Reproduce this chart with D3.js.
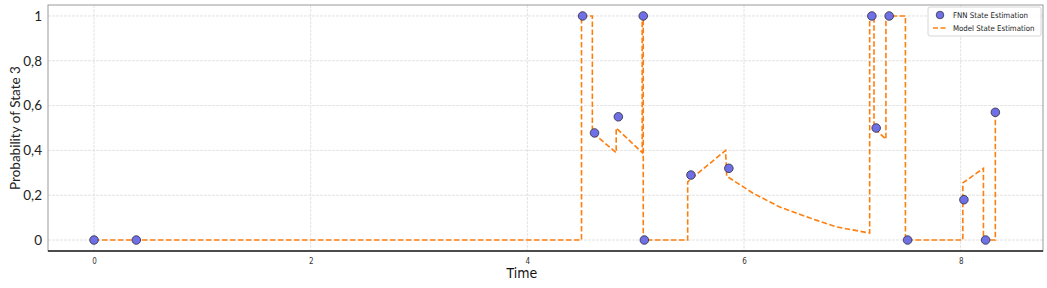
<!DOCTYPE html>
<html>
<head>
<meta charset="utf-8">
<script src="https://cdn.jsdelivr.net/npm/d3@7"></script>
<style>
  html, body { margin: 0; padding: 0; background: #fff; }
  svg { display: block; }
</style>
</head>
<body>
<div class="app"></div>
<script>
// FNN estimates (time, probability)
const fnnTime = [0, 0.39, 4.51, 4.62, 4.84, 5.07, 5.08, 5.51, 5.86, 7.18, 7.22, 7.34, 7.51, 8.03, 8.23, 8.32]
const fnnProb = [0, 0, 1, 0.478, 0.55, 1, 0, 0.29, 0.32, 1, 0.5, 1, 0, 0.18, 0, 0.57]

// model estimate polyline vertices
const modelTime = [0, 4.50, 4.50, 4.60, 4.60, 4.82, 4.82, 5.06, 5.06, 5.07, 5.07, 5.48, 5.48, 5.83, 5.84,
  6.08, 6.33, 6.61, 6.86, 7.16, 7.16, 7.20, 7.20, 7.31, 7.31, 7.49, 7.49, 8.02, 8.02, 8.21, 8.21, 8.32, 8.32]
const modelProb = [0, 0, 1, 1, 0.48, 0.39, 0.50, 0.39, 1, 1, 0, 0, 0.26, 0.40, 0.285,
  0.21, 0.147, 0.098, 0.058, 0.031, 1, 1, 0.50, 0.45, 1, 1, 0, 0, 0.255, 0.32, 0, 0, 0.57]

const xTicks = [0, 2, 4, 6, 8]
const yTicks = [0, 0.2, 0.4, 0.6, 0.8, 1]
const yTickLabels = ['0', '0,2', '0,4', '0,6', '0,8', '1']

const W = 1047, H = 288
const m = { left: 48, right: 4, top: 5, bottom: 37 }

const svg = d3.select('.app').append('svg').attr('width', W).attr('height', H)

const x = d3.scaleLinear().domain([-0.425, 8.76]).range([m.left, W - m.right])
const y = d3.scaleLinear().domain([-0.049, 1.049]).range([H - m.bottom, m.top])

// grid
svg.append('g')
  .selectAll('line.gy')
  .data(yTicks)
  .join('line')
  .attr('x1', m.left).attr('x2', W - m.right)
  .attr('y1', d => y(d)).attr('y2', d => y(d))
  .attr('stroke', '#dcdcdc').attr('stroke-width', 0.8).attr('stroke-dasharray', '3,1')

svg.append('g')
  .selectAll('line.gx')
  .data(xTicks)
  .join('line')
  .attr('x1', d => x(d)).attr('x2', d => x(d))
  .attr('y1', m.top).attr('y2', H - m.bottom)
  .attr('stroke', '#dcdcdc').attr('stroke-width', 0.8).attr('stroke-dasharray', '3,1')

// frame
svg.append('rect')
  .attr('x', m.left).attr('y', m.top)
  .attr('width', W - m.left - m.right).attr('height', H - m.top - m.bottom)
  .attr('fill', 'none').attr('stroke', '#999').attr('stroke-width', 1)
svg.append('line')
  .attr('x1', m.left).attr('x2', W - m.right)
  .attr('y1', H - m.bottom).attr('y2', H - m.bottom)
  .attr('stroke', '#222').attr('stroke-width', 1.5)

// axes
const yAxis = d3.axisLeft(y).tickValues(yTicks).tickSize(0).tickPadding(6)
  .tickFormat((d, i) => yTickLabels[i])
const gy = svg.append('g').attr('transform', `translate(${m.left},0)`).call(yAxis)
gy.select('.domain').remove()
gy.selectAll('text').attr('font-family', 'Lato, sans-serif').attr('font-size', 13.5).attr('fill', '#222')

const xAxis = d3.axisBottom(x).tickValues(xTicks).tickSize(0).tickPadding(7).tickFormat(d3.format('d'))
const gx = svg.append('g').attr('transform', `translate(0,${H - m.bottom})`).call(xAxis)
gx.select('.domain').remove()
gx.selectAll('text').attr('font-family', 'DejaVu Sans Condensed, DejaVu Sans, sans-serif')
  .attr('font-stretch', 'condensed').attr('font-size', 8).attr('fill', '#333')

svg.append('text')
  .attr('x', 522).attr('y', 278)
  .attr('text-anchor', 'middle')
  .attr('font-family', 'DejaVu Sans Condensed, DejaVu Sans, sans-serif').attr('font-stretch', 'condensed')
  .attr('font-size', 14).attr('fill', '#111')
  .text('Time')

svg.append('text')
  .attr('transform', `translate(20,${(y(0) + y(1)) / 2}) rotate(-90)`)
  .attr('text-anchor', 'middle')
  .attr('font-family', 'Lato, sans-serif')
  .attr('font-size', 13.5).attr('fill', '#222')
  .text('Probability of State 3')

// model line
const modelPts = modelTime.map((t, i) => [x(t), y(modelProb[i])])
svg.append('path')
  .attr('d', d3.line()(modelPts))
  .attr('fill', 'none')
  .attr('stroke', '#ff7f0e')
  .attr('stroke-width', 1.6)
  .attr('stroke-dasharray', '5.5,2.5')

// FNN points
svg.append('g')
  .selectAll('circle')
  .data(fnnTime.map((t, i) => [t, fnnProb[i]]))
  .join('circle')
  .attr('cx', d => x(d[0])).attr('cy', d => y(d[1]))
  .attr('r', 4.3)
  .attr('fill', '#7070e6')
  .attr('stroke', '#2a2a3a').attr('stroke-width', 0.8)

// legend
const lg = svg.append('g').attr('transform', 'translate(928,7)')
lg.append('rect').attr('width', 113).attr('height', 29).attr('rx', 2)
  .attr('fill', '#fff').attr('fill-opacity', 0.85).attr('stroke', '#ccc').attr('stroke-width', 0.8)
lg.append('circle').attr('cx', 12).attr('cy', 8).attr('r', 3.8)
  .attr('fill', '#7070e6').attr('stroke', '#2a2a3a').attr('stroke-width', 0.7)
lg.append('line').attr('x1', 5).attr('x2', 19).attr('y1', 21).attr('y2', 21)
  .attr('stroke', '#ff7f0e').attr('stroke-width', 1.5).attr('stroke-dasharray', '5,2.5')
const lgText = ['FNN State Estimation', 'Model State Estimation']
lg.selectAll('text.l')
  .data(lgText)
  .join('text')
  .attr('x', 25).attr('y', (d, i) => 11 + i * 13)
  .attr('font-family', 'DejaVu Sans Condensed, DejaVu Sans, sans-serif').attr('font-stretch', 'condensed')
  .attr('font-size', 7.8).attr('fill', '#222')
  .text(d => d)
</script>
</body>
</html>
